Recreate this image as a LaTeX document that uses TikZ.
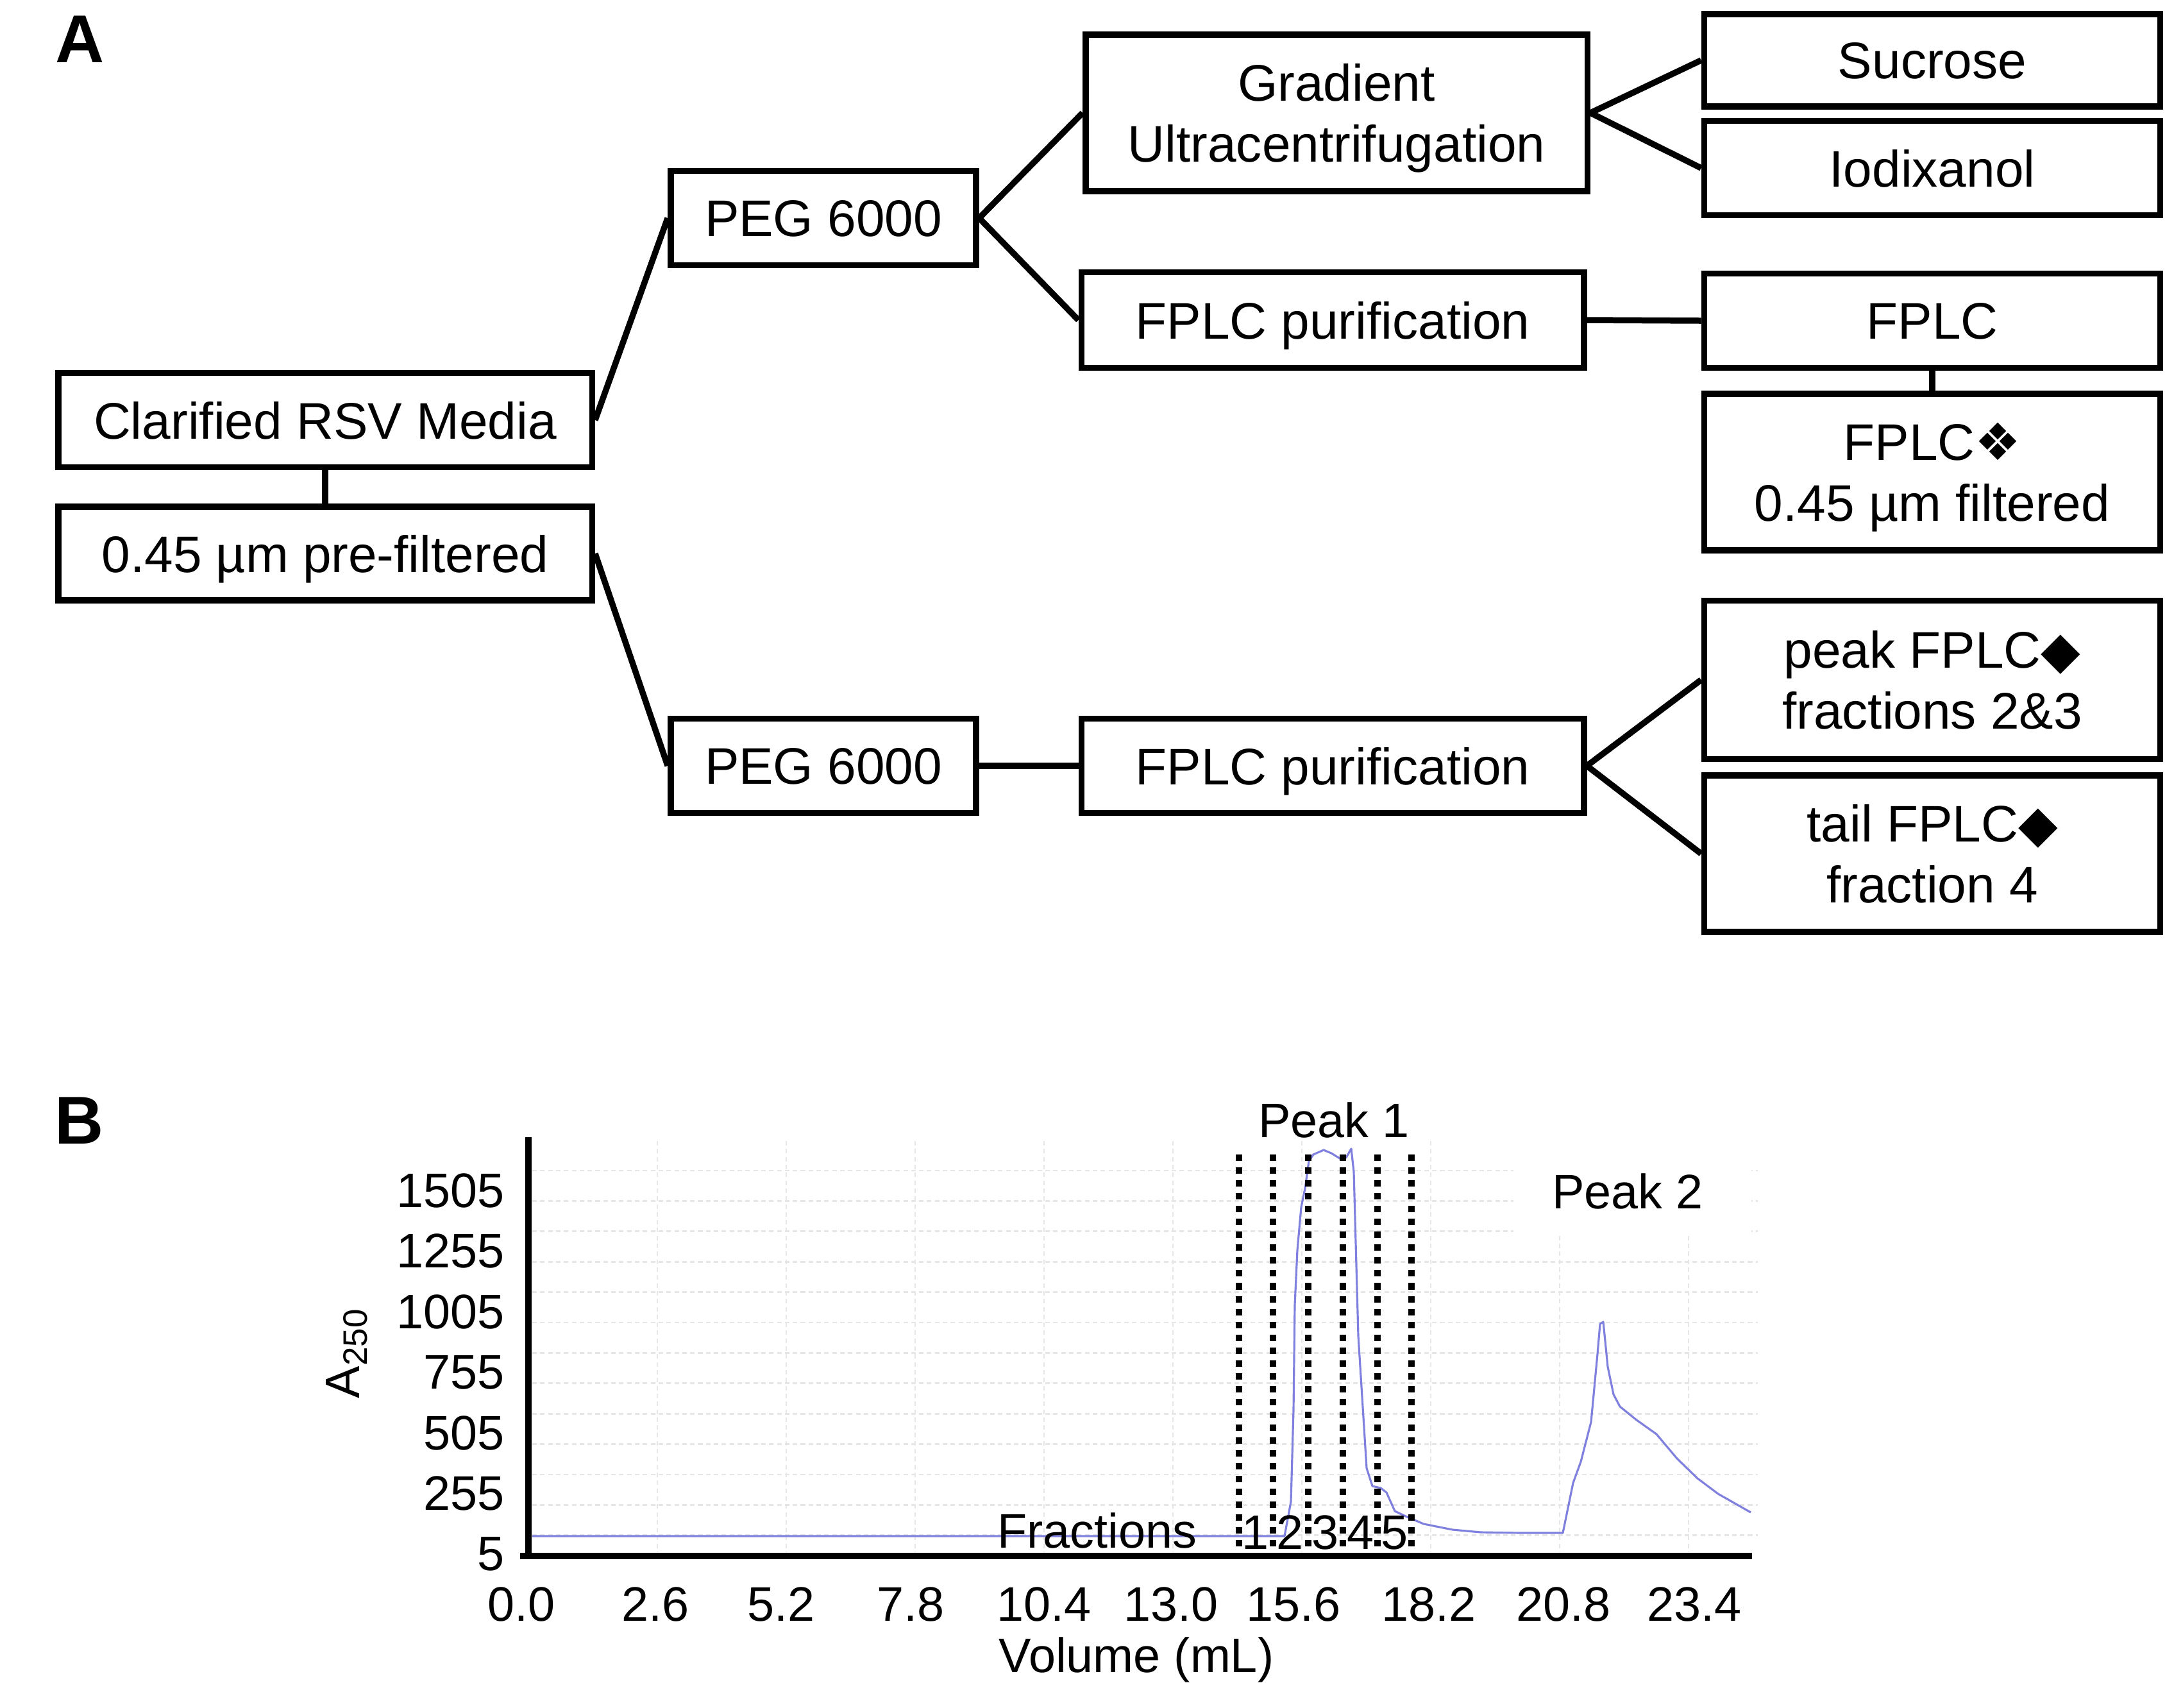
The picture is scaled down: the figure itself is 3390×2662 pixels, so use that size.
\documentclass[tikz,border=0pt]{standalone}
\usepackage{fontspec}
\usepackage{xcolor}
\setmainfont{Liberation Sans}
\newfontfamily\symfont{DejaVu Sans}
\definecolor{tracepurple}{RGB}{128,128,222}
\definecolor{gridgray}{RGB}{230,230,230}
\newcommand{\boxfont}{\fontsize{22.8}{27}\selectfont}
\newcommand{\chartfont}{\fontsize{21.5}{25}\selectfont}
\newcommand{\clover}{{\symfont\symbol{"2756}}}
\newcommand{\blackdiamond}{{\symfont\symbol{"25C6}}}

\tikzset{
  stepbox/.style={draw, line width=2.7pt, align=center, inner sep=0pt, text depth=0pt, font=\boxfont},
  link/.style={line width=2.7pt},
  gridline/.style={gridgray, line width=0.8pt, dash pattern=on 2pt off 1.5pt},
  fracline/.style={line width=2.85pt, dash pattern=on 2.85pt off 2.85pt},
  axisline/.style={line width=2.9pt},
}

\begin{document}
\begin{tikzpicture}[x=0.01cm, y=-0.01cm, font=\chartfont]
    \useasboundingbox (0,0) rectangle (3390,2662);
    % Panel labels
    \node[font=\fontsize{30}{34}\selectfont\bfseries] (labA) at (125,61) {A};
    \node[font=\fontsize{30}{34}\selectfont\bfseries] (labB) at (124,1747) {B};

    % Flow chart boxes
    \node[stepbox, minimum width=8.32cm, minimum height=1.47cm] (clar) at (507,655) {Clarified RSV Media};
    \node[stepbox, minimum width=8.32cm, minimum height=1.46cm] (filt) at (507,863) {0.45 µm pre-filtered};
    \node[stepbox, minimum width=4.76cm, minimum height=1.47cm] (pegA) at (1284,340) {PEG 6000};
    \node[stepbox, minimum width=4.76cm, minimum height=1.47cm] (pegB) at (1284,1194) {PEG 6000};
    \node[stepbox, minimum width=7.82cm, minimum height=2.44cm] (grad) at (2084,176) {Gradient\\Ultracentrifugation};
    \node[stepbox, minimum width=7.83cm, minimum height=1.49cm] (fplcA) at (2078,499) {FPLC purification};
    \node[stepbox, minimum width=7.83cm, minimum height=1.47cm] (fplcB) at (2078,1194) {FPLC purification};
    \node[stepbox, minimum width=7.11cm, minimum height=1.44cm] (sucr) at (3013,94) {Sucrose};
    \node[stepbox, minimum width=7.11cm, minimum height=1.47cm] (iodx) at (3013,262) {Iodixanol};
    \node[stepbox, minimum width=7.11cm, minimum height=1.47cm] (fplc) at (3013,500) {FPLC};
    \node[stepbox, minimum width=7.11cm, minimum height=2.44cm] (fplcf) at (3013,736) {FPLC\clover\\0.45 µm filtered};
    \node[stepbox, minimum width=7.11cm, minimum height=2.47cm] (peak) at (3013,1060) {peak FPLC\blackdiamond\\fractions 2\&3};
    \node[stepbox, minimum width=7.11cm, minimum height=2.44cm] (tail) at (3013,1331) {tail FPLC\blackdiamond\\fraction 4};

    % Connectors
    \draw[link] (clar.south) -- (filt.north);
    \draw[link] (clar.east) -- (pegA.west);
    \draw[link] (filt.east) -- (pegB.west);
    \draw[link] (pegA.east) -- (grad.west);
    \draw[link] (pegA.east) -- (fplcA.west);
    \draw[link] (grad.east) -- (sucr.west);
    \draw[link] (grad.east) -- (iodx.west);
    \draw[link] (fplcA.east) -- (fplc.west);
    \draw[link] (fplc.south) -- (fplcf.north);
    \draw[link] (pegB.east) -- (fplcB.west);
    \draw[link] (fplcB.east) -- (peak.west);
    \draw[link] (fplcB.east) -- (tail.west);

    % Chromatogram grid
    \foreach \k in {0,...,12}
        \draw[gridline] (830,{1825+47.4*\k}) -- (2741,{1825+47.4*\k});
    \foreach \k in {0,...,8}
        \draw[gridline] ({1025+201*\k},1779) -- ({1025+201*\k},2420);
    \fill[white] (2360,1770) rectangle (2731,1924);

    % A250 trace
    \draw[tracepurple, line width=0.9pt, line join=round] plot coordinates {
        (830,2395) (2003,2395) (2013,2341) (2017,2198) (2019,2035) (2023,1949)
        (2029,1882) (2035,1853) (2041,1810) (2048,1800) (2064,1793) (2076,1798)
        (2089,1806) (2099,1805) (2107,1791) (2111,1827) (2118,2083) (2124,2178)
        (2131,2289) (2140,2317) (2153,2320) (2162,2327) (2175,2356) (2194,2365)
        (2220,2376) (2265,2385) (2309,2389) (2373,2390) (2437,2390) (2453,2312)
        (2465,2279) (2481,2217) (2491,2111) (2495,2064) (2500,2061) (2507,2131)
        (2516,2174) (2526,2193) (2552,2214) (2583,2236) (2615,2274) (2647,2305)
        (2679,2329) (2730,2358)};

    % Axes
    \draw[axisline] (824,1773) -- (824,2426);
    \draw[axisline] (811,2426) -- (2732,2426);
    \foreach \val [count=\i from 0] in {5,255,505,755,1005,1255,1505}
        \node[anchor=east, inner sep=0pt] at (787,{2423-94.5*\i}) {\val};
    \foreach \val/\xpos in {0.0/813, 2.6/1022, 5.2/1218, 7.8/1420, 10.4/1628, 13.0/1826, 15.6/2017, 18.2/2228, 20.8/2438, 23.4/2642}
        \node[inner sep=0pt] at (\xpos,2501) {\val};
    \node[inner sep=0pt] (xlab) at (1772,2588) {Volume (mL)};
    \node[rotate=90, inner sep=0pt] (ylab) at (541,2110) {A\textsubscript{250}};

    % Collected fractions
    \foreach \xpos in {1932,1985,2040,2094,2148,2201}
        \draw[fracline] (\xpos,1800) -- (\xpos,2434);
    \foreach \n/\xpos in {1/1958, 2/2012, 3/2067, 4/2121, 5/2174}
        \node[anchor=base, inner sep=0pt] at (\xpos,2415) {\n};
    \node[anchor=base, inner sep=0pt] (frac) at (1711,2413) {Fractions};
    \node[anchor=base, inner sep=0pt] (peak1) at (2080,1773) {Peak 1};
    \node[anchor=base, inner sep=0pt] (peak2) at (2538,1884) {Peak 2};
\end{tikzpicture}
\end{document}
